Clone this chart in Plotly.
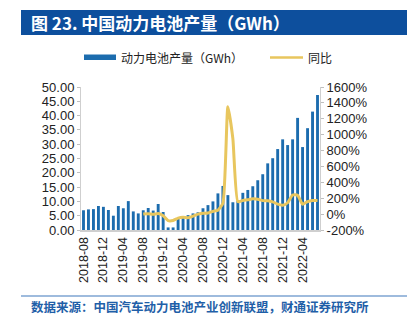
import plotly.graph_objects as go

# ---- data ----
months = []
y, m = 2018, 8
for _ in range(48):
    months.append(f"{y}-{m:02d}")
    m += 1
    if m > 12:
        m = 1
        y += 1

production = [6.9, 7.2, 7.3, 8.4, 8.1, 7.0, 5.0, 8.4, 7.6, 10.1,
              6.5, 5.8, 6.9, 7.7, 6.8, 9.1, 6.3, 0.9, 0.9, 4.0,
              4.7, 5.2, 5.8, 6.2, 7.6, 8.7, 10.0, 12.8, 15.4, 12.2,
              9.7, 10.2, 13.0, 14.0, 15.3, 17.4, 19.5, 23.3, 25.1, 28.3,
              31.7, 29.7, 31.7, 39.2, 29.0, 35.6, 41.4, 47.2]

yoy = [None] * 12 + [0, 5, -3, 8, -20, -82, -80, -50, -38, -45,
                     -25, 0, 10, 15, 35, 50, 136, 1352, 950, 157,
                     172, 180, 192, 187, 170, 168, 155, 125, 112, 143,
                     240, 238, 125, 158, 172, 172]

tick_labels = months[::4]
left_ticks = [0, 5, 10, 15, 20, 25, 30, 35, 40, 45, 50]
right_ticks = [-200, 0, 200, 400, 600, 800, 1000, 1200, 1400, 1600]
right_tick_text = [f"{v}%" for v in right_ticks]

title_text = "图 23. 中国动力电池产量（GWh）"
bar_name = "动力电池产量（GWh）"
line_name = "同比"
source_text = "数据来源：中国汽车动力电池产业创新联盟，财通证券研究所"

# ---- styles ----
W, H = 410, 326
X0, X1, YT, YB = 81, 320, 87, 230
BAR_C = "#1c6cae"
LINE_C = "#e8c65e"
TITLE_C = "#0d4f9d"
FONT = "Liberation Sans, Arial, Noto Sans CJK SC"
CJK = "Noto Sans CJK SC, Liberation Sans"


def px(x):
    return (x - X0) / (X1 - X0)


def py(yy):
    return (YB - yy) / (YB - YT)


fig = go.Figure()
fig.add_trace(go.Bar(x=months, y=production, name=bar_name,
                     marker=dict(color=BAR_C, line=dict(width=0)),
                     showlegend=False))
fig.add_trace(go.Scatter(x=months, y=yoy, name=line_name, yaxis="y2",
                         mode="lines",
                         line=dict(color=LINE_C, width=3, shape="spline", smoothing=0.5),
                         showlegend=False))

fig.update_layout(
    width=W, height=H,
    margin=dict(l=X0, r=W - X1, t=YT, b=H - YB),
    paper_bgcolor="white", plot_bgcolor="white",
    font=dict(family=FONT, size=13, color="#222222"),
    bargap=0.42,
    xaxis=dict(type="category", categoryorder="array", categoryarray=months,
               tickmode="array", tickvals=tick_labels, ticktext=tick_labels,
               tickangle=-90, tickfont=dict(size=12.5, color="#222222"),
               showgrid=False, showline=True, linecolor="#cfcfcf", linewidth=2,
               ticks="", range=[-0.5, 47.5], zeroline=False),
    yaxis=dict(range=[0, 50], tickmode="array", tickvals=left_ticks, tickformat=".2f",
               showgrid=False, showline=True, linecolor="#cfcfcf", linewidth=1,
               ticks="outside", ticklen=3, tickcolor="#bfbfbf",
               tickfont=dict(size=13, color="#222222"), zeroline=False),
    yaxis2=dict(range=[-200, 1600], tickmode="array", tickvals=right_ticks,
                ticktext=right_tick_text,
                overlaying="y", side="right", showgrid=False,
                showline=True, linecolor="#cfcfcf", linewidth=1,
                ticks="outside", ticklen=3, tickcolor="#bfbfbf",
                tickfont=dict(size=13, color="#222222"), zeroline=False),
)

shapes = []
annotations = []

# title bar
shapes.append(dict(type="rect", xref="paper", yref="paper",
                   x0=px(21), x1=px(407), y0=py(35), y1=py(10),
                   fillcolor=TITLE_C, line=dict(width=0), layer="below"))
annotations.append(dict(text=f"<b>{title_text}</b>", xref="paper", yref="paper",
                        x=px(29), y=py(22.5), xanchor="left", yanchor="middle",
                        showarrow=False,
                        font=dict(family=CJK, size=17, color="white")))

# custom legend
shapes.append(dict(type="rect", xref="paper", yref="paper",
                   x0=px(84), x1=px(116), y0=py(60), y1=py(54.5),
                   fillcolor=BAR_C, line=dict(width=0)))
annotations.append(dict(text=bar_name, xref="paper", yref="paper",
                        x=px(119), y=py(57.5), xanchor="left", yanchor="middle",
                        showarrow=False,
                        font=dict(family=CJK, size=12, color="#222222")))
shapes.append(dict(type="line", xref="paper", yref="paper",
                   x0=px(270), x1=px(303), y0=py(57.5), y1=py(57.5),
                   line=dict(color=LINE_C, width=2.5)))
annotations.append(dict(text=line_name, xref="paper", yref="paper",
                        x=px(306), y=py(57.5), xanchor="left", yanchor="middle",
                        showarrow=False,
                        font=dict(family=CJK, size=12, color="#222222")))

# footer
shapes.append(dict(type="line", xref="paper", yref="paper",
                   x0=px(21), x1=px(407), y0=py(296), y1=py(296),
                   line=dict(color="#7ea4d2", width=1.5)))
annotations.append(dict(text=f"<b>{source_text}</b>", xref="paper", yref="paper",
                        x=px(29), y=py(306.5), xanchor="left", yanchor="middle",
                        showarrow=False,
                        font=dict(family=CJK, size=12.5, color="#1f5fa8")))

fig.update_layout(shapes=shapes, annotations=annotations)

fig.write_html("out.html")
